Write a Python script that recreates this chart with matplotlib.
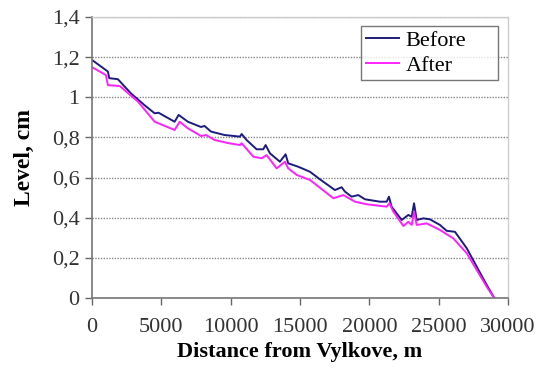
import matplotlib
matplotlib.use('Agg')
import matplotlib.pyplot as plt
from matplotlib.ticker import FuncFormatter

# distance along the branch, m  /  level, cm
dist_before = [0, 1150, 1250, 1870, 2800, 3800, 4520, 4800, 5960, 6250, 6920, 7860,
               8120, 8580, 9560, 10670, 10790, 11150, 11870, 12350, 12520, 12830,
               13550, 13960, 14150, 14870, 15720, 16440, 17520, 18000, 18240, 18720,
               19200, 19680, 20760, 21250, 21410, 21600, 22330, 22810, 23050, 23220,
               23410, 23890, 24370, 25090, 25570, 26170, 27020, 27740, 28460, 29000]
level_before = [1.186, 1.128, 1.095, 1.09, 1.02, 0.96, 0.92, 0.923, 0.878, 0.912, 0.878,
                0.852, 0.857, 0.829, 0.812, 0.804, 0.817, 0.787, 0.741, 0.741, 0.762,
                0.721, 0.679, 0.716, 0.671, 0.654, 0.629, 0.591, 0.538, 0.552, 0.53,
                0.505, 0.513, 0.492, 0.48, 0.48, 0.505, 0.455, 0.389, 0.414, 0.405,
                0.472, 0.389, 0.397, 0.392, 0.364, 0.335, 0.33, 0.248, 0.156, 0.065, 0.0]

dist_after = [0, 1010, 1150, 2000, 3320, 4520, 5960, 6320, 6920, 7860, 8220, 8850,
              9800, 10670, 10790, 11630, 12230, 12590, 13310, 13910, 14150, 14760,
              15720, 17400, 18120, 18960, 19800, 21250, 21440, 21730, 22450, 22810,
              23050, 23220, 23410, 24130, 25090, 26050, 27020, 28460, 29000]
level_after = [1.15, 1.11, 1.06, 1.056, 0.978, 0.878, 0.837, 0.878, 0.845, 0.807, 0.812,
               0.787, 0.772, 0.762, 0.771, 0.704, 0.696, 0.712, 0.646, 0.679, 0.646,
               0.613, 0.588, 0.497, 0.513, 0.48, 0.467, 0.455, 0.472, 0.43, 0.359, 0.38,
               0.364, 0.43, 0.364, 0.372, 0.339, 0.297, 0.223, 0.056, 0.0]

plt.rcParams['font.family'] = 'Liberation Serif'

fig = plt.figure(figsize=(5.44, 3.68), dpi=100)
ax = fig.add_axes([0.169, 0.19, 0.765, 0.764])

ax.plot(dist_before, level_before, color='#1c1c80', lw=1.4, label='Before')
ax.plot(dist_after, level_after, color='#ff22ff', lw=1.4, label='After')

ax.set_xlim(0, 30000)
ax.set_ylim(0, 1.4)
ax.set_xticks(range(0, 30001, 5000))
ax.set_yticks([0, 0.2, 0.4, 0.6, 0.8, 1.0, 1.2, 1.4])
ax.yaxis.set_major_formatter(FuncFormatter(
    lambda v, p: '0' if v == 0 else ('1' if abs(v - 1) < 1e-9 else f'{v:.1f}'.replace('.', ','))))
ax.tick_params(labelsize=16, colors='#666666', length=5, width=1, direction='out')
ax.tick_params(axis='x', pad=9, labelcolor='#333333')
ax.tick_params(axis='y', pad=4, labelcolor='#333333')

ax.grid(axis='y', color='#888888', ls=(0, (1, 1)), lw=1)
for s in ['left', 'bottom']:
    ax.spines[s].set_color('#777777')
    ax.spines[s].set_linewidth(1.2)
for s in ['top', 'right']:
    ax.spines[s].set_color('#cccccc')
    ax.spines[s].set_linewidth(1)

ax.set_xlabel('Distance from Vylkove, m', fontsize=16, fontweight='bold', labelpad=4)
ax.set_ylabel('Level, cm', fontsize=17, fontweight='bold', labelpad=12)

leg = ax.legend(loc='upper left', bbox_to_anchor=(0.647, 0.765, 0.329, 0.203),
                mode='expand', fontsize=16, frameon=True, fancybox=False,
                handlelength=1.5, handletextpad=0.3, borderpad=0.2,
                labelspacing=0.2, borderaxespad=0)
leg.get_frame().set_edgecolor('#555555')
leg.get_frame().set_linewidth(1)

fig.savefig('out.png', dpi=100)
